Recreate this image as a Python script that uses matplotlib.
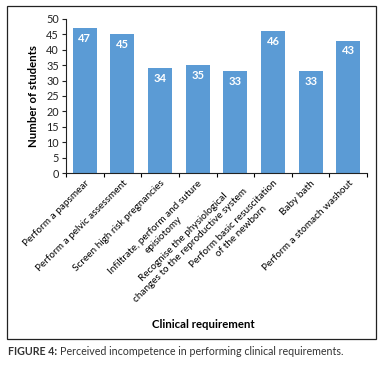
import matplotlib
matplotlib.use("Agg")
import matplotlib.pyplot as plt
from matplotlib.patches import Rectangle
import numpy as np

categories = [
    "Perform a papsmear",
    "Perform a pelvic assessment",
    "Screen high risk pregnancies",
    "Infiltrate, perform and suture\nepisiotomy",
    "Recognise the physiological\nchanges to the reproductive system",
    "Perform basic resuscitation\nof the newborn",
    "Baby bath",
    "Perform a stomach washout",
]
values = [47, 45, 34, 35, 33, 46, 33, 43]
yticks = list(range(0, 51, 5))

plt.rcParams['font.family'] = ['Lato', 'DejaVu Sans']

fig = plt.figure(figsize=(3.88, 3.65), dpi=100)
fig.patches.append(Rectangle((0.018, 0.071), 0.951, 0.912, transform=fig.transFigure,
                             fill=False, edgecolor='#222222', linewidth=0.9))
ax = fig.add_axes([0.170, 0.526, 0.776, 0.422])
x = np.arange(len(values))
bars = ax.bar(x, values, width=0.64, color='#5B9BD5')
for xi, v in zip(x, values):
    ax.text(xi, v - 1.6, str(v), ha='center', va='top', color='white',
            fontsize=8, fontweight='bold')

ax.set_xlim(-0.5, len(values) - 0.5)
ax.set_ylim(0, 50)
ax.set_yticks(yticks)
ax.tick_params(axis='y', labelsize=7.8, length=3, width=0.8, pad=2, colors='#222222')
ax.set_xticks(x)
ax.set_xticklabels(categories, rotation=45, ha='right', va='top',
                   rotation_mode='anchor', fontsize=7.2, multialignment='center',
                   linespacing=1.25)
ax.tick_params(axis='x', which='major', length=0, pad=4)
ax.set_xticks(np.arange(-0.5, len(values)), minor=True)
ax.tick_params(axis='x', which='minor', length=3, width=0.8, direction='out')
for s in ['top', 'right']:
    ax.spines[s].set_visible(False)
for s in ['left', 'bottom']:
    ax.spines[s].set_linewidth(0.8)
    ax.spines[s].set_color('#222222')

ax.set_ylabel("Number of students", fontsize=8.2, fontweight='bold', labelpad=5)
fig.text(0.523, 0.112, "Clinical requirement", ha='center', va='center',
         fontsize=8.2, fontweight='bold')
t1 = fig.text(0.021, 0.036, "FIGURE 4:", ha='left', va='center', fontsize=7.7,
              fontweight='bold', color='#333333')
fig.canvas.draw()
bb = t1.get_window_extent()
fig.text(bb.x1 / fig.bbox.width + 0.007, 0.036,
         "Perceived incompetence in performing clinical requirements.",
         ha='left', va='center', fontsize=7.7, color='#333333')

fig.savefig("out.png", dpi=100)
